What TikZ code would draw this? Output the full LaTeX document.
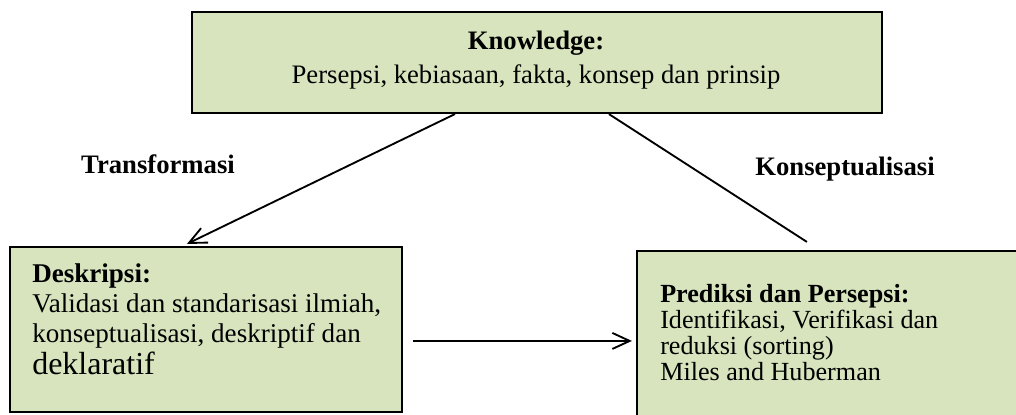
\documentclass[tikz,border=0pt]{standalone}
\usepackage{fontspec}
\setmainfont{Liberation Serif}
\usetikzlibrary{arrows.meta,fit,calc}
\definecolor{boxgreen}{HTML}{D7E4BD}
\begin{document}
\begin{tikzpicture}[x=0.75pt,y=-0.75pt,
  box/.style={draw=black, line width=1.6pt, fill=boxgreen, rectangle, inner sep=0pt},
  conn/.style={line width=1.4pt, black},
  arr/.style={conn, -{Straight Barb[length=13pt,width=12pt,line width=1.4pt]}},
  txt/.style={inner sep=0pt, align=left, anchor=north west},
  ctxt/.style={font=\fontsize{20}{20}\selectfont, inner sep=0pt, align=center, anchor=north},
  lbl/.style={font=\fontsize{20}{20}\selectfont\bfseries, inner sep=0pt}]
\clip (0,0) rectangle (1016,414);
\fill[white] (0,0) rectangle (1016,414);
% boxes
\node[box, fit={(192,12) (882,113)}] (know) {};
\node[box, fit={(10,247) (402,412)}] (desc) {};
\node[box, fit={(637,251) (1040,440)}] (pred) {};
% texts
\node[ctxt] (knowtxt) at (536,31) {\textbf{Knowledge:}\\[5.5pt]Persepsi, kebiasaan, fakta, konsep dan prinsip};
\node[txt, font=\fontsize{20.3}{22.5}\selectfont] (desctxt) at (32,263) {\textbf{Deskripsi:}\\Validasi dan standarisasi ilmiah,\\konseptualisasi, deskriptif dan\\[1.5pt]{\fontsize{24}{22.5}\selectfont deklaratif}};
\node[txt, font=\fontsize{19.6}{19.4}\selectfont] (predtxt) at (660,284) {\textbf{Prediksi dan Persepsi:}\\Identifikasi, Verifikasi dan\\reduksi (sorting)\\Miles and Huberman};
% labels
\node[lbl] (ltrans) at (158,164) {Transformasi};
\node[lbl] (lkons) at (845,169) {Konseptualisasi};
% connectors
\coordinate (kend) at ($(pred.north west)+(171,-8)$);
\draw[arr] ($(know.south west)+(264,0)$) -- ($(desc.north west)+(178,-2)$);
\draw[conn] ($(know.south west)+(418,0)$) -- (kend);
\draw[arr] ($(desc.north east)+(10,95)$) -- ($(pred.north west)+(-4,91)$);
\end{tikzpicture}
\end{document}
